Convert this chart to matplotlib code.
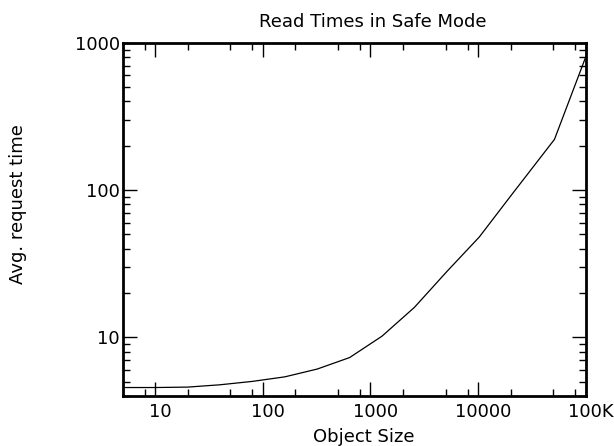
import numpy as np
import matplotlib
matplotlib.use("Agg")
import matplotlib.pyplot as plt
from matplotlib.ticker import LogLocator, FixedLocator, FixedFormatter, NullFormatter
import matplotlib.transforms as mtransforms

# Object sizes and average request times
object_sizes = [5, 10, 20, 40, 80, 160, 320, 640, 1280, 2560, 5120,
                10240, 20480, 51200, 102400]
request_times = [4.57, 4.57, 4.6, 4.77, 5.03, 5.4, 6.1, 7.3, 10.2, 16.0, 28.0,
                 48.0, 93.0, 221.0, 840.0]

x_tick_values = [10, 100, 1000, 10000, 100000]
x_tick_labels = ["10", "100", "1000", "10000", "100K"]
y_tick_values = [10, 100, 1000]
y_tick_labels = ["10", "100", "1000"]

plt.rcParams["font.family"] = "DejaVu Sans"
FONT_SIZE = 13

fig = plt.figure(figsize=(6.14, 4.46), dpi=100)
ax = fig.add_axes([0.2, 0.112, 0.754, 0.792])

ax.plot(object_sizes, request_times, color="black", linewidth=0.9)

ax.set_xscale("log")
ax.set_yscale("log")
ax.set_xlim(5, 100000)
ax.set_ylim(4, 1000)

ax.xaxis.set_major_locator(FixedLocator(x_tick_values))
ax.xaxis.set_major_formatter(FixedFormatter(x_tick_labels))
ax.xaxis.set_minor_locator(LogLocator(base=10, subs=(2.0, 5.0, 8.0)))
ax.xaxis.set_minor_formatter(NullFormatter())
ax.yaxis.set_major_locator(FixedLocator(y_tick_values))
ax.yaxis.set_major_formatter(FixedFormatter(y_tick_labels))
ax.yaxis.set_minor_locator(LogLocator(base=10, subs=np.arange(2, 10)))
ax.yaxis.set_minor_formatter(NullFormatter())

ax.tick_params(which="both", direction="in", top=True, right=True,
               labelsize=FONT_SIZE, width=1.0, color="black")
ax.tick_params(which="major", length=10, pad=5)
ax.tick_params(which="minor", length=5)
ax.tick_params(axis="y", which="major", pad=2)

for spine in ax.spines.values():
    spine.set_linewidth(2)

# nudge x tick labels slightly right as in the reference
shift = mtransforms.ScaledTranslation(5 / 100, 0, fig.dpi_scale_trans)
for lbl in ax.get_xticklabels():
    lbl.set_transform(lbl.get_transform() + shift)

fig.text(373 / 614, 1 - 22 / 446, "Read Times in Safe Mode", fontsize=FONT_SIZE,
         ha="center", va="center")
fig.text(364 / 614, 1 - 437 / 446, "Object Size", fontsize=FONT_SIZE,
         ha="center", va="center")
fig.text(18 / 614, 1 - 204 / 446, "Avg. request time", fontsize=FONT_SIZE,
         ha="center", va="center", rotation=90)

fig.savefig("out.png", dpi=100)
